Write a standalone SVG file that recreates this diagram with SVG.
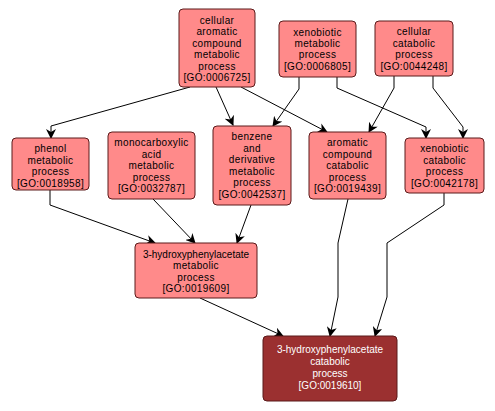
<svg xmlns="http://www.w3.org/2000/svg" width="495" height="411" viewBox="0 0 495 411">
<style>
.n rect{fill:#ff8a8a;stroke:#5a1a1a;stroke-width:1}
.n text{font-family:"Liberation Sans",Arial,sans-serif;font-size:10px;letter-spacing:0.35px;fill:#000;text-anchor:middle}
.d rect{fill:#9b3030;stroke:#5a1a1a;stroke-width:1}
.d text{font-family:"Liberation Sans",Arial,sans-serif;font-size:10px;fill:#fff;text-anchor:middle}
#edges path{fill:none;stroke:#000;stroke-width:1;marker-end:url(#ah)}
</style>
<defs>
<marker id="ah" markerWidth="10" markerHeight="10" refX="9" refY="5" orient="auto" markerUnits="userSpaceOnUse">
<path d="M0,0 L10,5 L0,10 L3,5 Z" fill="#000"/>
</marker>
</defs>
<rect width="495" height="411" fill="#fff"/>
<g id="edges">
<path d="M190,87 L51,126 L51,138"/>
<path d="M216,87 L233,125"/>
<path d="M241,87 L327,132"/>
<path d="M299,77 L299,89 L273,126"/>
<path d="M337,77 L337,88 L426,127 L426,138"/>
<path d="M394,76 L394,88 L369,132"/>
<path d="M433,76 L433,88 L463,127 L463,138"/>
<path d="M50,190 L50,205 L155,243"/>
<path d="M153,199 L195,243"/>
<path d="M251,205 L237,243"/>
<path d="M200,298 L283,336"/>
<path d="M348,199 L338,243 L338,297 L330,336"/>
<path d="M444,193 L444,205 L387,243 L387,297 L375,336"/>
</g>
<g id="n1" class="n"><rect x="179" y="9" width="76" height="78" rx="4"/>
<text x="217" y="23.5">cellular</text><text x="217" y="35">aromatic</text><text x="217" y="46.5">compound</text><text x="217" y="58">metabolic</text><text x="217" y="69.5">process</text><text x="217" y="81">[GO:0006725]</text></g>
<g id="n2" class="n"><rect x="279" y="21" width="77" height="56" rx="4"/>
<text x="317.5" y="35.5">xenobiotic</text><text x="317.5" y="47">metabolic</text><text x="317.5" y="58">process</text><text x="317.5" y="69.5">[GO:0006805]</text></g>
<g id="n3" class="n"><rect x="375" y="21" width="78" height="55" rx="4"/>
<text x="414" y="35">cellular</text><text x="414" y="46.5">catabolic</text><text x="414" y="58">process</text><text x="414" y="69.5">[GO:0044248]</text></g>
<g id="n4" class="n"><rect x="12" y="138" width="77" height="52" rx="4"/>
<text x="50.5" y="152">phenol</text><text x="50.5" y="163.5">metabolic</text><text x="50.5" y="175">process</text><text x="50.5" y="186.5">[GO:0018958]</text></g>
<g id="n5" class="n"><rect x="108" y="132" width="87" height="67" rx="4"/>
<text x="151.5" y="146">monocarboxylic</text><text x="151.5" y="157.5">acid</text><text x="151.5" y="169">metabolic</text><text x="151.5" y="180.5">process</text><text x="151.5" y="192">[GO:0032787]</text></g>
<g id="n6" class="n"><rect x="213" y="126" width="78" height="79" rx="4"/>
<text x="252" y="140">benzene</text><text x="252" y="151.5">and</text><text x="252" y="163">derivative</text><text x="252" y="174.5">metabolic</text><text x="252" y="186">process</text><text x="252" y="197.5">[GO:0042537]</text></g>
<g id="n7" class="n"><rect x="309" y="132" width="77" height="67" rx="4"/>
<text x="347.5" y="146">aromatic</text><text x="347.5" y="157.5">compound</text><text x="347.5" y="169">catabolic</text><text x="347.5" y="180.5">process</text><text x="347.5" y="192">[GO:0019439]</text></g>
<g id="n8" class="n"><rect x="405" y="138" width="79" height="55" rx="4"/>
<text x="444.5" y="152">xenobiotic</text><text x="444.5" y="163.5">catabolic</text><text x="444.5" y="175">process</text><text x="444.5" y="186.5">[GO:0042178]</text></g>
<g id="n9" class="n"><rect x="135" y="243" width="122" height="55" rx="4"/>
<text x="196" y="257.5" style="letter-spacing:0">3-hydroxyphenylacetate</text><text x="196" y="269">metabolic</text><text x="196" y="280.5">process</text><text x="196" y="292">[GO:0019609]</text></g>
<g id="n10" class="d"><rect x="263" y="336" width="134" height="65" rx="4"/>
<text x="330" y="353">3-hydroxyphenylacetate</text><text x="330" y="365">catabolic</text><text x="330" y="377">process</text><text x="330" y="389">[GO:0019610]</text></g>
</svg>
